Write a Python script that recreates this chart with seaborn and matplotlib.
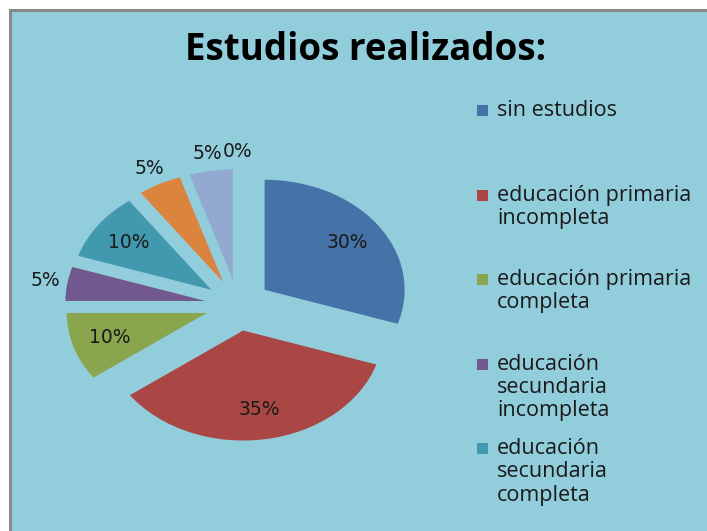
import numpy as np
import matplotlib
matplotlib.use('Agg')
import matplotlib.pyplot as plt
import seaborn as sns
from matplotlib.patches import Rectangle

# datos
categorias = ['sin estudios', 'educación primaria\nincompleta', 'educación primaria\ncompleta',
              'educación\nsecundaria\nincompleta', 'educación\nsecundaria\ncompleta',
              'educación terciaria\nincompleta', 'educación terciaria\ncompleta', 'otros']
porcentajes = [30, 35, 10, 5, 10, 5, 5, 0]
etiquetas = ['30%', '35%', '10%', '5%', '10%', '5%', '5%', '0%']
colores = ['#4572A7', '#AA4643', '#89A54E', '#71588F', '#4198AF', '#DB843D', '#93A9CF', '#D19392']
afuera = [False, False, False, True, False, True, True, True]
n_leyenda = 5

sns.set_theme(style='white')
plt.rcParams['font.family'] = ['Open Sans', 'DejaVu Sans']

W, H = 707, 531
fig = plt.figure(figsize=(W / 100, H / 100), dpi=100)
fig.patch.set_facecolor('white')

# fondo del grafico con borde gris
fondo = Rectangle((9.5 / W, -0.1), 1.2, 1.1 - 9.5 / H, transform=fig.transFigure,
                  facecolor='#92CDDC', edgecolor='#898989', linewidth=2.2, zorder=-5)
fig.patches.append(fondo)

fig.text(366 / W, 1 - 50 / H, 'Estudios realizados:', ha='center', va='center',
         fontsize=26.5, fontweight='bold', color='black')

ax = fig.add_axes([28 / W, 61 / H, 420 / W, 330 / H])
ax.set_facecolor('none')
wedges, _ = ax.pie(porcentajes, colors=colores, startangle=90, counterclock=False,
                   explode=[0.235] * len(porcentajes),
                   wedgeprops={'linewidth': 0})
ax.set_aspect('auto')
ax.set_xlim(-1.5, 1.5)
ax.set_ylim(-1.5, 1.5)
ax.axis('off')

# etiquetas de porcentaje
for w, txt, fuera in zip(wedges, etiquetas, afuera):
    ang = np.deg2rad((w.theta1 + w.theta2) / 2)
    r = 1.16 if fuera else 0.73
    cx, cy = w.center
    ax.text(cx + r * np.cos(ang), cy + r * np.sin(ang), txt, ha='center', va='center',
            fontsize=13.5, color='#1a1a1a', family='DejaVu Sans')

# leyenda (solo se ven las primeras entradas)
y0 = 100
for i in range(n_leyenda):
    y = y0 + i * 84.5
    fig.patches.append(Rectangle((477 / W, 1 - (y + 16) / H), 11 / W, 11 / H,
                                 transform=fig.transFigure, facecolor=colores[i],
                                 edgecolor='none'))
    fig.text(497 / W, 1 - y / H, categorias[i], ha='left', va='top', fontsize=15.5,
             color='#1a1a1a', linespacing=1.15)

plt.savefig('out.png', dpi=100, facecolor=fig.get_facecolor())
